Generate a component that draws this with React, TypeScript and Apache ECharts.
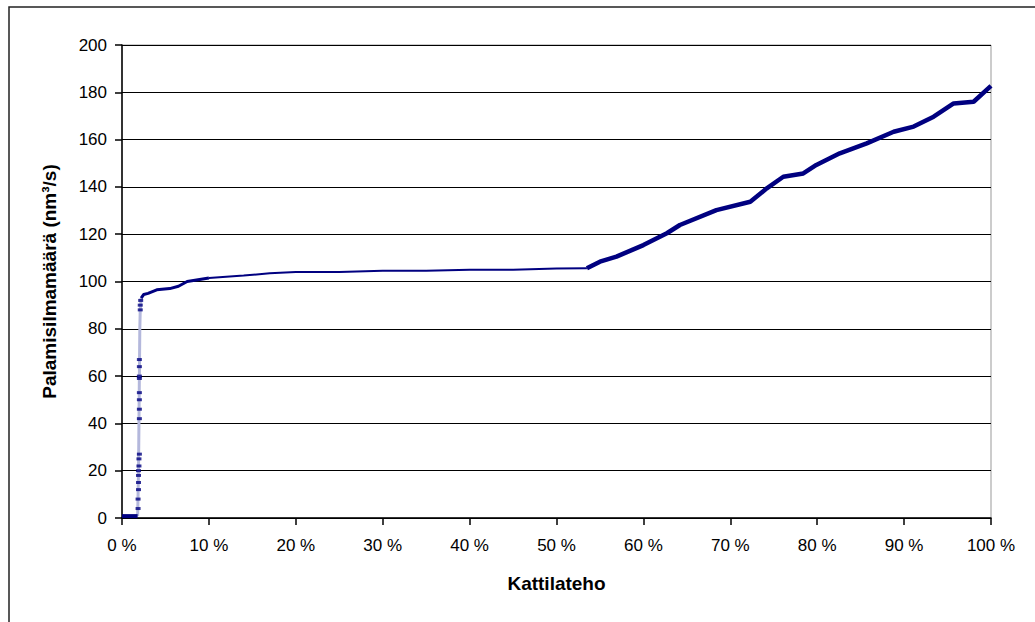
import React, { useEffect, useRef } from "react";
import * as echarts from "echarts";

// Kattilateho (%) vs Palamisilmamäärä (nm³/s)
const xTicks = [0, 10, 20, 30, 40, 50, 60, 70, 80, 90, 100];
const yTicks = [0, 20, 40, 60, 80, 100, 120, 140, 160, 180, 200];

const startSegment: [number, number][] = [
  [0, 0.8], [1.8, 0.8],
];
const steepSegment: [number, number][] = [
  [1.8, 0.8], [1.85, 10], [1.9, 20], [1.95, 40], [2.0, 60], [2.05, 80], [2.1, 88], [2.2, 93],
];
const steepMarkers: [number, number][] = [
  [1.85, 4], [1.85, 8], [1.9, 12], [1.9, 15], [1.9, 18], [1.9, 20], [1.95, 22], [1.95, 25], [2.0, 27],
  [2.0, 42], [2.0, 46], [2.0, 50], [2.0, 53], [2.0, 59], [2.0, 60], [2.0, 64], [2.0, 67],
  [2.1, 88], [2.1, 90], [2.15, 92],
];
const riseSegment: [number, number][] = [
  [2.2, 93], [2.5, 94.5], [3, 95], [4, 96.5], [5.5, 97], [6.5, 98], [7.5, 100], [10, 101.5],
];
const plateauSegment: [number, number][] = [
  [10, 101.5], [14, 102.5], [17, 103.5], [20, 104], [25, 104], [30, 104.5], [35, 104.5],
  [40, 105], [45, 105], [50, 105.5], [53.5, 105.6],
];
const climbSegment: [number, number][] = [
  [53.5, 105.6], [55, 108.4], [56.9, 110.5], [60, 115.4], [62.7, 120.4], [64.2, 123.9],
  [68.4, 130.2], [72.3, 133.7], [74.2, 139.4], [76.1, 144.3], [78.4, 145.7], [79.9, 149.3],
  [82.6, 154.2], [85.7, 158.4], [88.8, 163.3], [91.1, 165.5], [93.4, 169.7], [95.7, 175.3],
  [98, 176], [100, 182.7],
];

const NAVY = "#000080";
const FONT = "Liberation Sans";

export default function App() {
  const ref = useRef<HTMLDivElement>(null);
  useEffect(() => {
    if (!ref.current) return;
    const chart = echarts.init(ref.current, undefined, { renderer: "svg" });
    const lineSeries = (data: [number, number][], color: string, width: number) => ({
      type: "line",
      data,
      showSymbol: false,
      symbol: "none",
      lineStyle: { color, width },
      z: 3,
    });
    chart.setOption({
      animation: false,
      backgroundColor: "#ffffff",
      grid: {
        left: 122,
        right: 44,
        top: 45,
        bottom: 104,
        show: true,
        borderColor: "#999999",
        borderWidth: 1,
      },
      graphic: [
        {
          type: "rect",
          shape: { x: 9, y: 7, width: 1100, height: 700 },
          style: { fill: "none", stroke: "#222222", lineWidth: 1.5 },
          silent: true,
        },
      ],
      xAxis: {
        type: "value",
        min: xTicks[0],
        max: xTicks[xTicks.length - 1],
        interval: 10,
        name: "Kattilateho",
        nameLocation: "middle",
        nameGap: 56,
        nameTextStyle: { fontFamily: FONT, fontSize: 19, fontWeight: "bold", color: "#000" },
        axisLine: { show: true, onZero: false, lineStyle: { color: "#000", width: 1.5 } },
        axisTick: { show: true, length: 7, lineStyle: { color: "#000", width: 1.5 } },
        axisLabel: {
          formatter: "{value} %",
          fontFamily: FONT,
          fontSize: 17,
          color: "#000",
          margin: 19,
        },
        splitLine: { show: false },
      },
      yAxis: {
        type: "value",
        min: yTicks[0],
        max: yTicks[yTicks.length - 1],
        interval: 20,
        name: "Palamisilmamäärä (nm³/s)",
        nameLocation: "middle",
        nameGap: 63,
        nameRotate: 90,
        nameTextStyle: { fontFamily: FONT, fontSize: 19, fontWeight: "bold", color: "#000" },
        axisLine: { show: true, lineStyle: { color: "#000", width: 1.5 } },
        axisTick: { show: true, length: 7, lineStyle: { color: "#000", width: 1.5 } },
        axisLabel: { fontFamily: FONT, fontSize: 17, color: "#000", margin: 15 },
        splitLine: { show: true, lineStyle: { color: "#000", width: 1.2 } },
      },
      series: [
        lineSeries(steepSegment, "#b4b8dc", 3),
        lineSeries(startSegment, NAVY, 4),
        lineSeries(riseSegment, NAVY, 3),
        lineSeries(plateauSegment, NAVY, 2),
        lineSeries(climbSegment, NAVY, 4.5),
        {
          type: "scatter",
          data: steepMarkers,
          symbol: "rect",
          symbolSize: [5, 3],
          itemStyle: { color: NAVY },
          z: 4,
        },
      ],
    });
    return () => chart.dispose();
  }, []);
  return (
    <div
      ref={ref}
      style={{ position: "absolute", left: 0, top: 0, width: 1035, height: 622 }}
    />
  );
}
